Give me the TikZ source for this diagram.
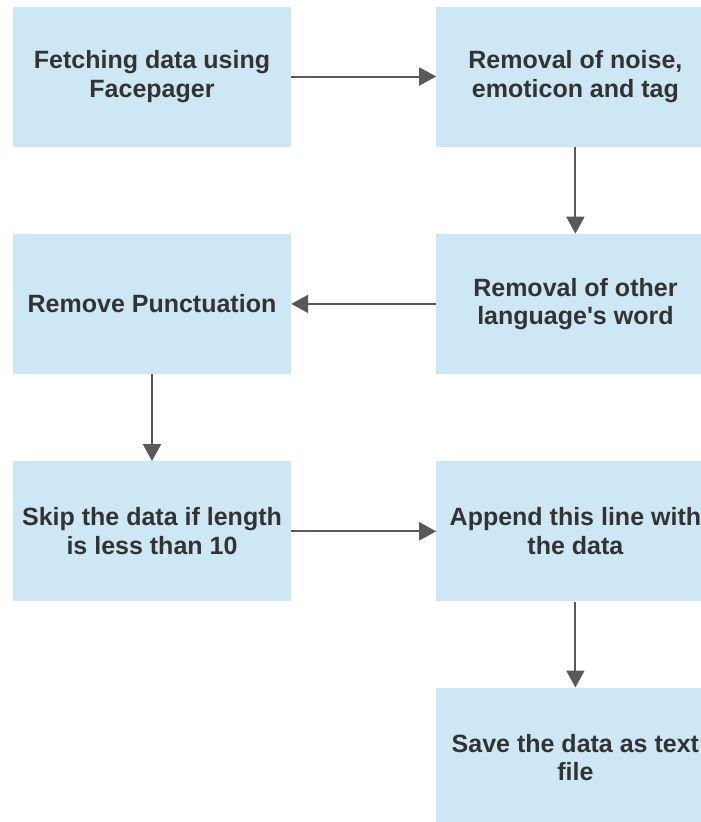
\documentclass[tikz,border=0pt]{standalone}
\usepackage{fontspec}
\setmainfont{Liberation Sans}
\usetikzlibrary{positioning,arrows.meta}
\definecolor{boxblue}{RGB}{205,231,245}
\definecolor{textgray}{RGB}{51,51,51}
\definecolor{arrowgray}{RGB}{89,89,89}
\tikzset{
    procbox/.style={rectangle, fill=boxblue, minimum width=278pt, minimum height=140pt,
        inner sep=0pt, align=center, text=textgray,
        font=\fontsize{25}{28.5}\selectfont\bfseries},
    flow/.style={draw=arrowgray, line width=2pt, -{Triangle[length=17pt,width=18pt]}}
}
\begin{document}
\begin{tikzpicture}[x=1pt,y=1pt]
    \useasboundingbox (0,0) rectangle (701,-822);
    \node[procbox] (fetch) at (152,-76.5) {Fetching data using\\Facepager};
    \node[procbox, right=145pt of fetch] (noise) {Removal of noise,\\emoticon and tag};
    \node[procbox, below=87pt of noise] (lang) {Removal of other\\language\textquotesingle s word};
    \node[procbox, below=87pt of fetch] (punct) {Remove Punctuation};
    \node[procbox, below=87pt of punct] (skip) {Skip the data if length\\is less than 10};
    \node[procbox, right=145pt of skip] (append) {Append this line with\\the data};
    \node[procbox, below=86pt of append] (save) {Save the data as text\\file};
    \draw[flow] (fetch) -- (noise);
    \draw[flow] (noise) -- (lang);
    \draw[flow] (lang) -- (punct);
    \draw[flow] (punct) -- (skip);
    \draw[flow] (skip) -- (append);
    \draw[flow] (append) -- (save);
\end{tikzpicture}
\end{document}
